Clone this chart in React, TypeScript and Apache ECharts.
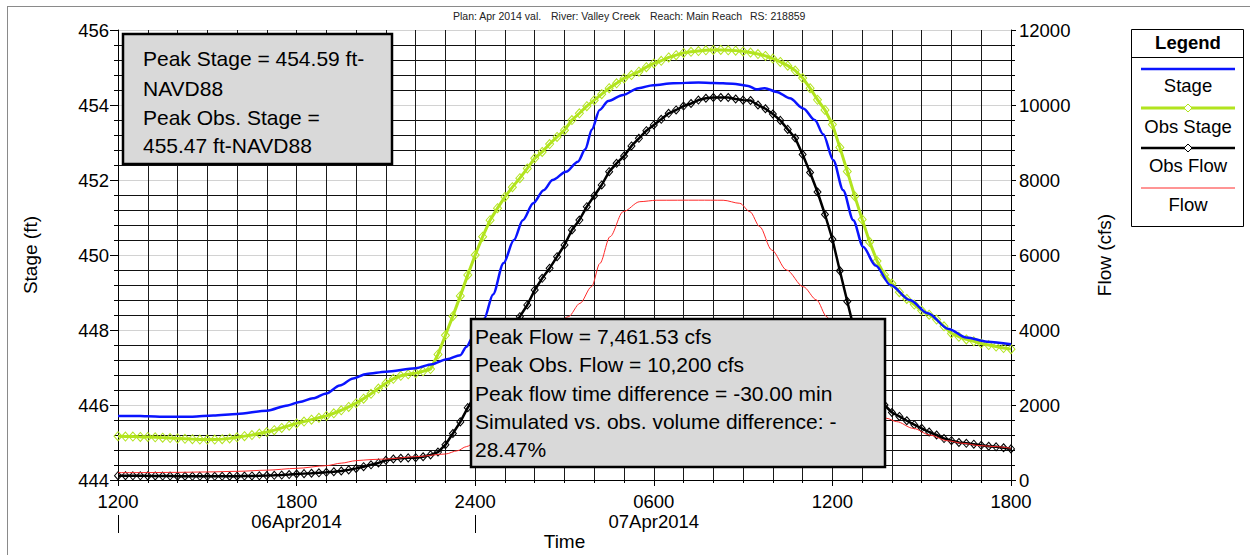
import React, { useEffect, useRef } from "react";
import * as echarts from "echarts";

const FONT = '"Liberation Sans", Arial, Helvetica, sans-serif';

// ---- axis labels ----
const xTickLabels = ["1200", "1800", "2400", "0600", "1200", "1800"];
const dateLabelHours = [6, 18];
const dateLabelTexts = ["06Apr2014", "07Apr2014"];
const dayBoundaryHours = [0, 12];

// ---- observed series (every 15 minutes from 1200 06Apr2014) ----
const obsStepHours = 0.25;
const obsStage = [
  445.17, 445.16, 445.16, 445.15, 445.15, 445.14, 445.13, 445.12,
  445.11, 445.1, 445.09, 445.08, 445.08, 445.08, 445.09, 445.11,
  445.14, 445.17, 445.2, 445.24, 445.28, 445.33, 445.39, 445.45,
  445.51, 445.56, 445.61, 445.66, 445.71, 445.78, 445.86, 445.95,
  446.05, 446.17, 446.3, 446.44, 446.58, 446.7, 446.78, 446.82,
  446.85, 446.9, 446.96, 447.35, 447.86, 448.37, 448.91, 449.47,
  450.0, 450.49, 450.93, 451.25, 451.55, 451.81, 452.05, 452.31,
  452.58, 452.75, 452.96, 453.15, 453.33, 453.6, 453.78, 453.97,
  454.13, 454.29, 454.45, 454.58, 454.71, 454.8, 454.89, 455.01,
  455.11, 455.18, 455.27, 455.33, 455.39, 455.42, 455.44, 455.46,
  455.47, 455.47, 455.46, 455.45, 455.43, 455.4, 455.36, 455.31,
  455.24, 455.15, 455.05, 454.92, 454.72, 454.45, 454.14, 453.87,
  453.48, 452.87, 452.23, 451.57, 450.95, 450.35, 449.84, 449.47,
  449.24, 449.01, 448.83, 448.68, 448.52, 448.41, 448.28, 448.1,
  447.91, 447.82, 447.75, 447.7, 447.64, 447.6, 447.56, 447.52,
  447.49,
];
const obsFlow = [
  115, 115, 113, 112, 110, 108, 106, 104,
  102, 100, 99, 98, 98, 98, 99, 100,
  102, 105, 108, 112, 118, 125, 133, 145,
  160, 170, 180, 192, 205, 220, 240, 270,
  310, 355, 405, 455, 525, 560, 580, 590,
  595, 620, 670, 745, 940, 1240, 1550, 1930,
  2250, 2650, 3000, 3350, 3700, 4030, 4355, 4667,
  5067, 5378, 5645, 5955, 6267, 6667, 6933, 7289,
  7582, 7867, 8222, 8444, 8640, 8907, 9111, 9316,
  9467, 9618, 9778, 9867, 9973, 10040, 10133, 10180,
  10200, 10200, 10200, 10160, 10130, 10120, 10000, 9900,
  9760, 9590, 9350, 9120, 8680, 8200, 7680, 7080,
  6420, 5580, 4760, 3950, 3250, 2700, 2300, 2000,
  1800, 1695, 1580, 1475, 1378, 1280, 1200, 1105,
  1049, 1000, 978, 955, 925, 900, 885, 860,
  830,
];

// ---- simulated series (hours after 1200 06Apr2014) ----
const stageHours = [
  0, 0.5, 1, 1.5, 2.5, 3.2, 4, 5, 5.7, 6.1, 6.55, 7, 7.45, 7.9, 8.35, 9, 10,
  10.55, 11.05, 11.5, 11.7, 11.95, 12.3, 12.6, 12.95, 13.3, 13.6, 13.95, 14.3,
  14.6, 15.05, 15.45, 15.7, 15.92, 16.18, 16.47, 16.97, 17.48, 17.98, 18.65,
  19.5, 20, 20.65, 21.17, 21.45, 21.73, 22.13, 22.57, 23.02, 23.41, 23.69,
  24.03, 24.36, 24.7, 25.03, 25.45, 25.95, 26.6, 27.2, 27.9, 28.5, 29.2, 30,
];
const stageValues = [
  445.71, 445.71, 445.7, 445.69, 445.69, 445.72, 445.76, 445.85, 445.99,
  446.08, 446.18, 446.31, 446.52, 446.71, 446.83, 446.89, 446.98, 447.09,
  447.22, 447.33, 447.55, 447.85, 448.3, 448.95, 449.78, 450.4, 450.93,
  451.38, 451.73, 452.0, 452.22, 452.49, 452.82, 453.35, 453.87, 454.11,
  454.27, 454.45, 454.53, 454.58, 454.6, 454.59, 454.57, 454.51, 454.42,
  454.45, 454.35, 454.18, 453.91, 453.6, 453.22, 452.53, 451.73, 450.93,
  450.22, 449.72, 449.2, 448.8, 448.45, 448.03, 447.8, 447.69, 447.62,
];
const flowHours = [
  0, 1, 2, 3, 4, 5, 6, 7, 7.5, 8, 8.5, 9, 10, 11, 11.4, 11.7, 12, 12.3, 12.6,
  12.95, 13.3, 13.6, 13.95, 14.3, 14.6, 15.13, 15.52, 15.91, 16.19, 16.53,
  16.97, 17.53, 18.1, 19.5, 20.33, 20.89, 21.23, 21.56, 21.96, 22.46, 23.02,
  23.47, 23.81, 24.03, 24.36, 24.7, 25.03, 25.45, 25.82, 26.16, 26.71, 27.28,
  27.84, 28.39, 28.96, 29.52, 30,
];
const flowValues = [
  196, 198, 204, 215, 231, 262, 311, 382, 450, 516, 545, 560, 622, 693, 780,
  889, 1000, 1300, 1850, 2450, 2900, 3250, 3550, 3850, 4050, 4355, 4711, 5155,
  5778, 6489, 7155, 7422, 7460, 7462, 7460, 7378, 7155, 6755, 6133, 5600, 5155,
  4800, 4355, 4000, 3300, 2700, 2200, 1850, 1645, 1556, 1378, 1200, 1049, 978,
  916, 889, 844,
];

// ---- texts ----
const titleParts = [
  "Plan: Apr 2014 val.",
  "River: Valley Creek",
  "Reach: Main Reach",
  "RS: 218859",
];
const stageNoteLines = [
  "Peak Stage = 454.59 ft-",
  "NAVD88",
  "Peak Obs. Stage =",
  "455.47 ft-NAVD88",
];
const flowNoteLines = [
  "Peak Flow = 7,461.53 cfs",
  "Peak Obs. Flow = 10,200 cfs",
  "Peak flow time difference = -30.00 min",
  "Simulated vs. obs. volume difference: -",
  "28.47%",
];
const legendNames = ["Stage", "Obs Stage", "Obs Flow", "Flow"];

// ---- styles ----
const BLUE = "#0a14ff";
const GREEN = "#b2e41e";
const BLACK = "#000000";
const RED = "#ff2a2a";
const legendColors = [BLUE, GREEN, BLACK, RED];
const legendWidths = [2.5, 3, 2.5, 1];
const legendMarker = [false, true, true, false];

function buildOption() {
  const obsTimes = obsStage.map((_, i) => i * obsStepHours);
  const obsStageData = obsStage.map((v, i) => [obsTimes[i], v]);
  const obsFlowData = obsFlow.map((v, i) => [obsTimes[i], v]);
  const stageData = stageValues.map((v, i) => [stageHours[i], v]);
  const flowData = flowValues.map((v, i) => [flowHours[i], v]);

  const titleX = [453, 551, 650, 750];
  const graphics: any[] = [];
  // outer frame
  graphics.push({
    type: "line",
    shape: { x1: 7, y1: 6.5, x2: 1250, y2: 6.5 },
    style: { stroke: "#8a8a8a", lineWidth: 1 },
    silent: true,
  });
  graphics.push({
    type: "line",
    shape: { x1: 7.5, y1: 6, x2: 7.5, y2: 555 },
    style: { stroke: "#8a8a8a", lineWidth: 1 },
    silent: true,
  });
  titleParts.forEach((t, i) => {
    graphics.push({
      type: "text",
      x: titleX[i],
      y: 16,
      style: {
        text: t,
        fontSize: 10.5,
        fontFamily: FONT,
        fill: "#222",
        align: "left",
        verticalAlign: "middle",
      },
      silent: true,
    });
  });

  // note box 1
  graphics.push({
    type: "rect",
    z: 100,
    shape: { x: 123, y: 34, width: 269, height: 130 },
    style: { fill: "#d9d9d9", stroke: "#000", lineWidth: 2.5 },
    silent: true,
  });
  const note1Y = [58, 88, 117, 145];
  stageNoteLines.forEach((t, i) => {
    graphics.push({
      type: "text",
      z: 101,
      x: 143,
      y: note1Y[i],
      style: {
        text: t,
        fontSize: 21,
        fontFamily: FONT,
        fill: "#000",
        align: "left",
        verticalAlign: "middle",
      },
      silent: true,
    });
  });

  // note box 2
  graphics.push({
    type: "rect",
    z: 100,
    shape: { x: 471, y: 319, width: 414, height: 148 },
    style: { fill: "#d9d9d9", stroke: "#000", lineWidth: 2.5 },
    silent: true,
  });
  const note2Y = [336, 364, 393, 421, 449.5];
  flowNoteLines.forEach((t, i) => {
    graphics.push({
      type: "text",
      z: 101,
      x: 475,
      y: note2Y[i],
      style: {
        text: t,
        fontSize: 21,
        fontFamily: FONT,
        fill: "#000",
        align: "left",
        verticalAlign: "middle",
      },
      silent: true,
    });
  });

  // legend
  graphics.push({
    type: "rect",
    z: 100,
    shape: { x: 1131.5, y: 29.5, width: 112, height: 197 },
    style: { fill: "#fff", stroke: "#000", lineWidth: 1 },
    silent: true,
  });
  graphics.push({
    type: "line",
    z: 101,
    shape: { x1: 1131.5, y1: 57.5, x2: 1243.5, y2: 57.5 },
    style: { stroke: "#000", lineWidth: 1 },
    silent: true,
  });
  graphics.push({
    type: "text",
    z: 101,
    x: 1188,
    y: 42,
    style: {
      text: "Legend",
      fontSize: 18.5,
      fontWeight: "bold",
      fontFamily: FONT,
      fill: "#000",
      align: "center",
      verticalAlign: "middle",
    },
    silent: true,
  });
  const legLineY = [69, 108, 148, 188];
  const legTextY = [85, 126, 165, 204];
  legendNames.forEach((name, i) => {
    graphics.push({
      type: "line",
      z: 101,
      shape: { x1: 1141, y1: legLineY[i], x2: 1235, y2: legLineY[i] },
      style: { stroke: legendColors[i], lineWidth: legendWidths[i] },
      silent: true,
    });
    if (legendMarker[i]) {
      const cx = 1188;
      const cy = legLineY[i];
      graphics.push({
        type: "polygon",
        z: 102,
        shape: {
          points: [
            [cx, cy - 4],
            [cx + 4, cy],
            [cx, cy + 4],
            [cx - 4, cy],
          ],
        },
        style: { fill: "#fff", stroke: legendColors[i], lineWidth: 1 },
        silent: true,
      });
    }
    graphics.push({
      type: "text",
      z: 101,
      x: 1188,
      y: legTextY[i],
      style: {
        text: name,
        fontSize: 18.5,
        fontFamily: FONT,
        fill: "#000",
        align: "center",
        verticalAlign: "middle",
      },
      silent: true,
    });
  });

  const axisText = { color: "#000", fontSize: 18.5, fontFamily: FONT };

  return {
    animation: false,
    backgroundColor: "#fff",
    textStyle: { fontFamily: FONT },
    grid: {
      left: 118,
      top: 30,
      width: 893,
      height: 450,
      containLabel: false,
      outerBoundsMode: "none",
    },
    xAxis: {
      type: "value",
      min: 0,
      max: 30,
      interval: 6,
      name: "Time",
      nameLocation: "middle",
      nameGap: 52,
      nameMoveOverlap: false,
      nameTextStyle: { color: "#000", fontSize: 19, fontFamily: FONT },
      axisLine: { show: true, onZero: false, lineStyle: { color: "#000", width: 1 } },
      axisTick: { show: true, length: 6, lineStyle: { color: "#000" } },
      minorTick: { show: true, splitNumber: 6, length: 3, lineStyle: { color: "#000" } },
      splitLine: { show: true, lineStyle: { color: "#1a1a1a", width: 1 } },
      minorSplitLine: { show: true, lineStyle: { color: "#1a1a1a", width: 1 } },
      axisLabel: {
        ...axisText,
        margin: 11,
        lineHeight: 20,
        showMinLabel: true,
        showMaxLabel: true,
        hideOverlap: false,
        formatter: (v: number) => {
          const idx = Math.round(v / 6);
          const main = xTickLabels[idx] ?? "";
          const d = dateLabelHours.indexOf(v);
          return d >= 0 ? main + "\n" + dateLabelTexts[d] : main;
        },
      },
    },
    yAxis: [
      {
        type: "value",
        min: 444,
        max: 456,
        interval: 2,
        position: "left",
        name: "Stage (ft)",
        nameLocation: "middle",
        nameGap: 78,
        nameTextStyle: { color: "#000", fontSize: 19, fontFamily: FONT },
        axisLine: { show: true, lineStyle: { color: "#000", width: 1 } },
        axisTick: { show: true, length: 8, lineStyle: { color: "#000" } },
        minorTick: { show: true, splitNumber: 5, length: 4, lineStyle: { color: "#000" } },
        splitLine: { show: true, lineStyle: { color: "#d2d2d2", width: 1 } },
        minorSplitLine: { show: true, lineStyle: { color: "#111", width: 1 } },
        axisLabel: {
          ...axisText,
          margin: 9,
          showMinLabel: true,
          showMaxLabel: true,
          formatter: (v: number) => String(v),
        },
      },
      {
        type: "value",
        min: 0,
        max: 12000,
        interval: 2000,
        position: "right",
        name: "Flow (cfs)",
        nameLocation: "middle",
        nameGap: 84,
        nameTextStyle: { color: "#000", fontSize: 19, fontFamily: FONT },
        axisLine: { show: true, lineStyle: { color: "#000", width: 1 } },
        axisTick: { show: true, length: 5, lineStyle: { color: "#000" } },
        minorTick: { show: true, splitNumber: 5, length: 4, lineStyle: { color: "#000" } },
        splitLine: { show: false },
        minorSplitLine: { show: false },
        axisLabel: {
          ...axisText,
          margin: 8,
          showMinLabel: true,
          showMaxLabel: true,
          formatter: (v: number) => String(v),
        },
      },
    ],
    series: [
      {
        name: "Obs Stage",
        type: "line",
        xAxisIndex: 0,
        yAxisIndex: 0,
        data: obsStageData,
        showSymbol: true,
        symbol: "diamond",
        symbolSize: [8, 9],
        lineStyle: { color: GREEN, width: 3 },
        itemStyle: { color: "rgba(0,0,0,0)", borderColor: GREEN, borderWidth: 1 },
        z: 3,
        silent: true,
      },
      {
        name: "Obs Flow",
        type: "line",
        xAxisIndex: 0,
        yAxisIndex: 1,
        data: obsFlowData,
        showSymbol: true,
        symbol: "diamond",
        symbolSize: [7, 8],
        lineStyle: { color: BLACK, width: 2.5 },
        itemStyle: { color: "rgba(0,0,0,0)", borderColor: BLACK, borderWidth: 1 },
        z: 4,
        silent: true,
      },
      {
        name: "Stage",
        type: "line",
        xAxisIndex: 0,
        yAxisIndex: 0,
        data: stageData,
        showSymbol: false,
        smooth: 0.3,
        smoothMonotone: "x",
        lineStyle: { color: BLUE, width: 2.5 },
        itemStyle: { color: BLUE },
        z: 5,
        silent: true,
      },
      {
        name: "Flow",
        type: "line",
        xAxisIndex: 0,
        yAxisIndex: 1,
        data: flowData,
        showSymbol: false,
        smooth: 0.3,
        smoothMonotone: "x",
        lineStyle: { color: RED, width: 1 },
        itemStyle: { color: RED },
        z: 6,
        silent: true,
      },
    ],
    graphic: { elements: graphics },
  };
}

export default function App() {
  const ref = useRef<HTMLDivElement>(null);
  useEffect(() => {
    if (!ref.current) return;
    const chart = echarts.init(ref.current, null, { renderer: "svg" });
    const option: any = buildOption();
    chart.setOption(option);
    // day-boundary marks below the time axis, placed through the x scale
    const bottomY = chart.convertToPixel({ yAxisIndex: 0 }, 444) as number;
    const dayMarks = dayBoundaryHours.map((h, i) => {
      const px = Math.round(chart.convertToPixel({ xAxisIndex: 0 }, h) as number) + 0.5;
      return {
        id: "daymark" + i,
        type: "line",
        shape: { x1: px, y1: bottomY + 35, x2: px, y2: bottomY + 53 },
        style: { stroke: "#000", lineWidth: 1 },
        silent: true,
      };
    });
    chart.setOption({
      graphic: { elements: [...option.graphic.elements, ...dayMarks] },
    });
    return () => chart.dispose();
  }, []);
  return (
    <div
      ref={ref}
      style={{
        position: "fixed",
        left: 0,
        top: 0,
        width: 1250,
        height: 555,
        background: "#fff",
      }}
    />
  );
}
